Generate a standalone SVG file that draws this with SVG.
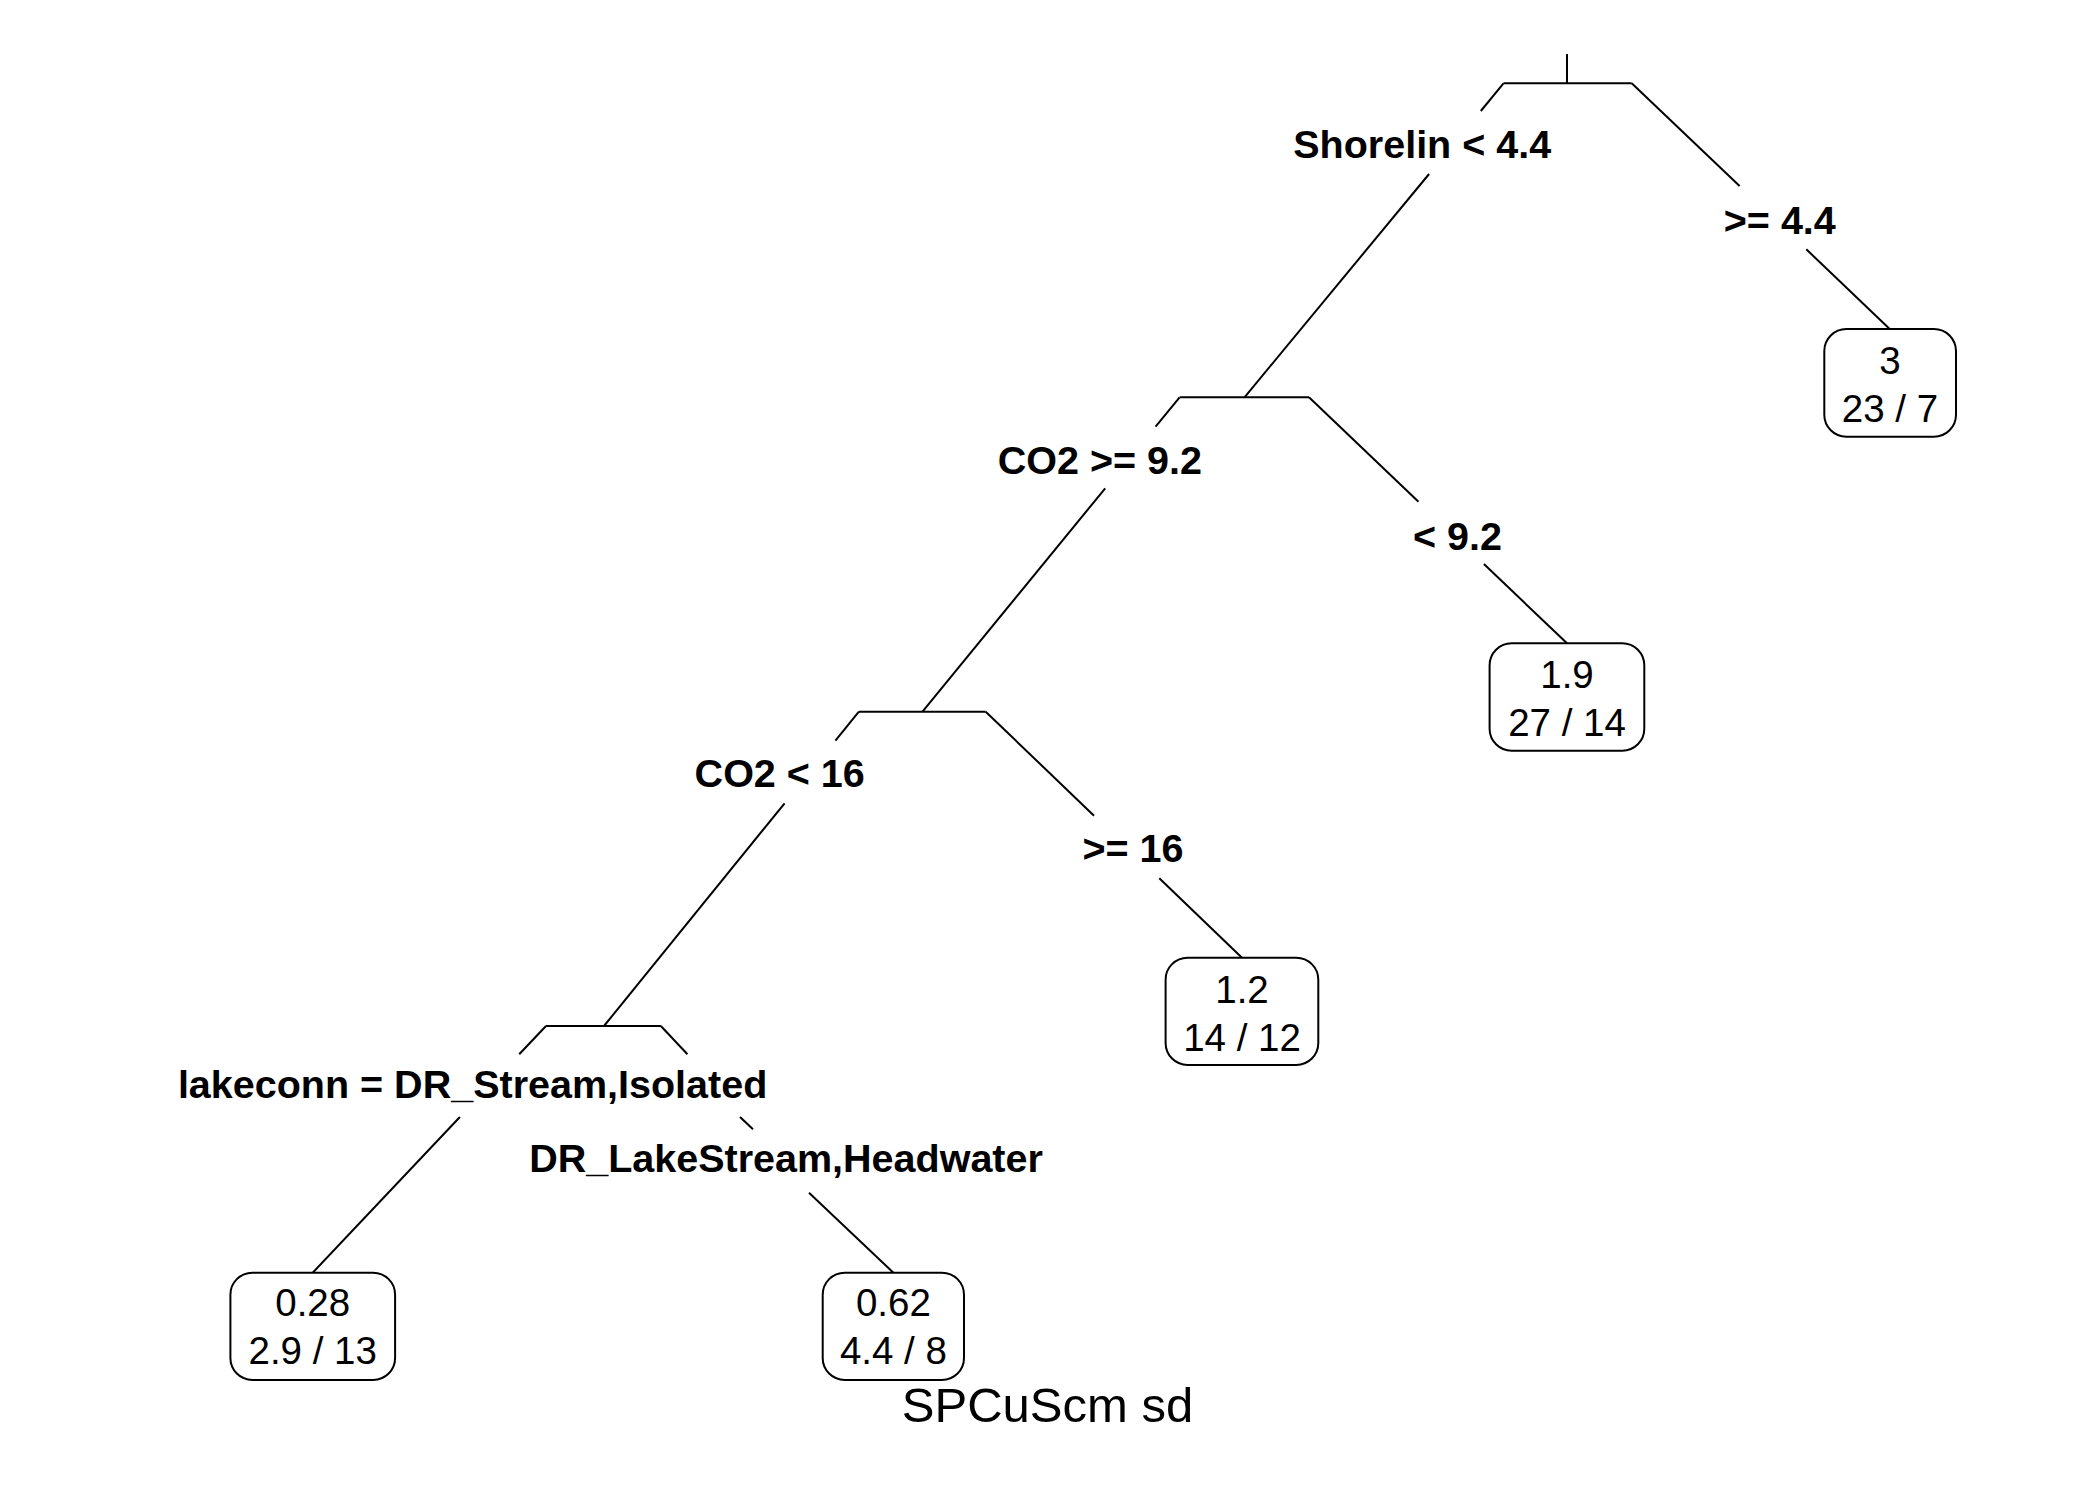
<svg xmlns="http://www.w3.org/2000/svg" width="2100" height="1500" viewBox="0 0 2100 1500">
<style>
.br{stroke:#000;stroke-width:2;fill:none;stroke-linecap:butt}
.box{fill:#fff;stroke:#000;stroke-width:2}
.split{font-family:"Liberation Sans",Arial,sans-serif;font-weight:bold;font-size:39.5px;fill:#000;text-anchor:middle}
.leaf{font-family:"Liberation Sans",Arial,sans-serif;font-size:38.5px;fill:#000;text-anchor:middle}
.title{font-family:"Liberation Sans",Arial,sans-serif;font-size:49px;fill:#000;text-anchor:middle}
</style>
<rect x="0" y="0" width="2100" height="1500" fill="#fff"/>
<g id="connectors">
  <line class="br" x1="1567" y1="54" x2="1567" y2="83.3"/>
  <line class="br" x1="1503.5" y1="83.3" x2="1631.7" y2="83.3"/>
  <line class="br" x1="1503.5" y1="83.3" x2="1480.8" y2="111"/>
  <line class="br" x1="1429.1" y1="174" x2="1244.5" y2="397.3"/>
  <line class="br" x1="1631.7" y1="83.3" x2="1739.6" y2="186"/>
  <line class="br" x1="1806.3" y1="249.3" x2="1889.7" y2="329"/>
  <line class="br" x1="1179.6" y1="397.3" x2="1309" y2="397.3"/>
  <line class="br" x1="1179.6" y1="397.3" x2="1155.6" y2="426.7"/>
  <line class="br" x1="1105.2" y1="488.3" x2="922.5" y2="711.7"/>
  <line class="br" x1="1309" y1="397.3" x2="1418.5" y2="501.7"/>
  <line class="br" x1="1483.9" y1="564" x2="1567" y2="643.3"/>
  <line class="br" x1="858.9" y1="711.7" x2="985.7" y2="711.7"/>
  <line class="br" x1="858.9" y1="711.7" x2="835.4" y2="740.7"/>
  <line class="br" x1="784.6" y1="803.3" x2="604" y2="1026"/>
  <line class="br" x1="985.7" y1="711.7" x2="1094" y2="815.7"/>
  <line class="br" x1="1159.3" y1="878.3" x2="1242" y2="957.7"/>
  <line class="br" x1="546" y1="1026" x2="660.9" y2="1026"/>
  <line class="br" x1="546" y1="1026" x2="519.2" y2="1054.3"/>
  <line class="br" x1="459.9" y1="1117" x2="312.7" y2="1272.7"/>
  <line class="br" x1="660.9" y1="1026" x2="687.4" y2="1054.3"/>
  <line class="br" x1="740" y1="1117" x2="753" y2="1129.3"/>
  <line class="br" x1="809" y1="1192.7" x2="893.4" y2="1272.7"/>
</g>
<g id="split-shorelin">
  <text class="split" x="1422.2" y="158.3">Shorelin &lt; 4.4</text>
  <text class="split" x="1779.8" y="234">&gt;= 4.4</text>
</g>
<g id="split-co2-92">
  <text class="split" x="1099.9" y="474.3">CO2 &gt;= 9.2</text>
  <text class="split" x="1457.4" y="550">&lt; 9.2</text>
</g>
<g id="split-co2-16">
  <text class="split" x="779.7" y="787.3">CO2 &lt; 16</text>
  <text class="split" x="1133" y="861.7">&gt;= 16</text>
</g>
<g id="split-lakeconn">
  <text class="split" x="472.6" y="1098.3">lakeconn = DR_Stream,Isolated</text>
  <text class="split" x="786" y="1171.7">DR_LakeStream,Headwater</text>
</g>
<g id="leaf-3">
  <rect class="box" x="1824.3" y="329" width="131.7" height="107.7" rx="22" ry="22"/>
  <text class="leaf" x="1890" y="373.5">3</text>
  <text class="leaf" x="1890" y="422.3">23 / 7</text>
</g>
<g id="leaf-1.9">
  <rect class="box" x="1489.6" y="643.3" width="154.7" height="107.4" rx="22" ry="22"/>
  <text class="leaf" x="1567" y="688.3">1.9</text>
  <text class="leaf" x="1567" y="736">27 / 14</text>
</g>
<g id="leaf-1.2">
  <rect class="box" x="1165.6" y="957.7" width="152.7" height="107.3" rx="22" ry="22"/>
  <text class="leaf" x="1242" y="1003.3">1.2</text>
  <text class="leaf" x="1242" y="1051">14 / 12</text>
</g>
<g id="leaf-0.28">
  <rect class="box" x="230.4" y="1272.7" width="164.7" height="107.3" rx="22" ry="22"/>
  <text class="leaf" x="312.7" y="1316">0.28</text>
  <text class="leaf" x="312.7" y="1364.3">2.9 / 13</text>
</g>
<g id="leaf-0.62">
  <rect class="box" x="822.7" y="1272.7" width="141.3" height="107.3" rx="22" ry="22"/>
  <text class="leaf" x="893.4" y="1316">0.62</text>
  <text class="leaf" x="893.4" y="1364.3">4.4 / 8</text>
</g>
<g id="title">
  <text class="title" x="1047.5" y="1421.7">SPCuScm sd</text>
</g>
</svg>
